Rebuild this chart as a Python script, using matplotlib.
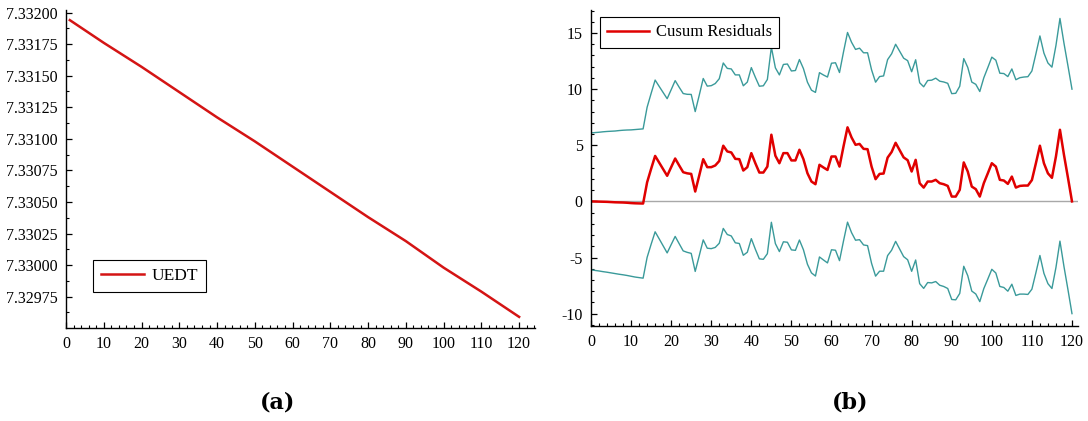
import numpy as np
import matplotlib
matplotlib.use("Agg")
import matplotlib.pyplot as plt
from matplotlib.ticker import MultipleLocator, FormatStrFormatter

plt.rcParams['font.family'] = ['Liberation Serif', 'DejaVu Serif']
plt.rcParams['axes.unicode_minus'] = False

# (a) UEDT, read every 10 steps
uedt_x = [1, 10, 20, 30, 40, 50, 60, 70, 80, 90, 100, 110, 120]
uedt_y = [7.33194, 7.33176, 7.33157, 7.33137, 7.33117, 7.33098, 7.33078,
          7.33058, 7.33038, 7.33019, 7.32998, 7.32979, 7.32959]

# (b) cusum of residuals and its bounds, t = 0..120
t = list(range(121))
cusum = [0.00, -0.01, -0.02, -0.03, -0.04, -0.06, -0.08, -0.09, -0.10, -0.12,
         -0.15, -0.17, -0.18, -0.19, 1.70, 2.90, 4.05, 3.46, 2.87, 2.28,
         3.05, 3.82, 3.20, 2.60, 2.50, 2.45, 0.88, 2.30, 3.76, 3.05,
         3.05, 3.20, 3.60, 4.96, 4.45, 4.36, 3.79, 3.76, 2.75, 3.05,
         4.30, 3.40, 2.57, 2.57, 3.10, 5.94, 4.07, 3.40, 4.30, 4.30,
         3.65, 3.65, 4.60, 3.76, 2.51, 1.77, 1.53, 3.26, 3.02, 2.80,
         4.00, 4.00, 3.10, 4.90, 6.60, 5.70, 5.04, 5.12, 4.68, 4.65,
         3.10, 1.98, 2.45, 2.48, 3.90, 4.40, 5.22, 4.57, 3.92, 3.67,
         2.66, 3.70, 1.62, 1.23, 1.77, 1.77, 1.92, 1.62, 1.53, 1.38,
         0.43, 0.43, 1.03, 3.47, 2.66, 1.32, 1.09, 0.43, 1.62, 2.50,
         3.40, 3.10, 1.92, 1.86, 1.56, 2.21, 1.23, 1.38, 1.41, 1.41,
         1.90, 3.40, 4.96, 3.40, 2.50, 2.10, 4.00, 6.38, 4.15, 2.10,
         0.00]
upper = [6.10, 6.13, 6.16, 6.20, 6.23, 6.25, 6.27, 6.31, 6.34, 6.36,
         6.37, 6.40, 6.43, 6.46, 8.39, 9.62, 10.81, 10.25, 9.70, 9.15,
         9.95, 10.76, 10.17, 9.61, 9.54, 9.53, 8.00, 9.45, 10.95, 10.27,
         10.31, 10.50, 10.93, 12.33, 11.85, 11.80, 11.27, 11.27, 10.30, 10.63,
         11.92, 11.06, 10.26, 10.30, 10.86, 13.74, 11.90, 11.27, 12.20, 12.24,
         11.62, 11.66, 12.64, 11.83, 10.62, 9.91, 9.71, 11.47, 11.26, 11.08,
         12.31, 12.35, 11.48, 13.32, 15.05, 14.18, 13.54, 13.65, 13.24, 13.24,
         11.72, 10.62, 11.12, 11.18, 12.63, 13.15, 14.00, 13.38, 12.76, 12.54,
         11.55, 12.62, 10.57, 10.21, 10.77, 10.80, 10.98, 10.71, 10.64, 10.52,
         9.60, 9.63, 10.26, 12.72, 11.94, 10.63, 10.43, 9.79, 11.01, 11.92,
         12.85, 12.58, 11.42, 11.39, 11.12, 11.80, 10.84, 11.02, 11.08, 11.11,
         11.62, 13.15, 14.74, 13.21, 12.33, 11.96, 13.89, 16.30, 14.10, 12.07,
         10.00]
lower = [-6.10, -6.15, -6.20, -6.26, -6.31, -6.37, -6.43, -6.49, -6.54, -6.60,
         -6.67, -6.74, -6.79, -6.84, -4.99, -3.82, -2.71, -3.33, -3.96, -4.59,
         -3.85, -3.12, -3.77, -4.41, -4.54, -4.63, -6.24, -4.85, -3.43, -4.17,
         -4.21, -4.10, -3.73, -2.41, -2.95, -3.08, -3.69, -3.75, -4.80, -4.53,
         -3.32, -4.26, -5.12, -5.16, -4.66, -1.86, -3.76, -4.47, -3.60, -3.64,
         -4.32, -4.36, -3.44, -4.31, -5.60, -6.37, -6.65, -4.95, -5.22, -5.48,
         -4.31, -4.35, -5.28, -3.52, -1.85, -2.78, -3.46, -3.41, -3.88, -3.94,
         -5.52, -6.66, -6.22, -6.22, -4.83, -4.35, -3.56, -4.24, -4.92, -5.20,
         -6.23, -5.22, -7.33, -7.75, -7.23, -7.26, -7.14, -7.47, -7.58, -7.76,
         -8.74, -8.77, -8.20, -5.78, -6.62, -7.99, -8.25, -8.93, -7.77, -6.92,
         -6.05, -6.38, -7.58, -7.67, -8.00, -7.38, -8.38, -8.26, -8.26, -8.29,
         -7.82, -6.35, -4.82, -6.41, -7.33, -7.76, -5.89, -3.54, -5.80, -7.87,
         -10.00]

fig = plt.figure(figsize=(10.88, 4.21), dpi=100)
ax1 = fig.add_axes([0.0607, 0.2209, 0.4310, 0.7553])
ax2 = fig.add_axes([0.5432, 0.2257, 0.4476, 0.7505])


def style(ax):
    for s in ['top', 'right']:
        ax.spines[s].set_visible(False)
    for s in ['left', 'bottom']:
        ax.spines[s].set_linewidth(1.0)
    ax.tick_params(which='both', direction='in', labelsize=11.5, pad=6)
    ax.tick_params(which='major', length=4, width=0.9)
    ax.tick_params(which='minor', length=2.5, width=0.8)
    ax.xaxis.set_major_locator(MultipleLocator(10))
    ax.xaxis.set_minor_locator(MultipleLocator(2))


def box_legend(ax, loc, anchor, size):
    leg = ax.legend(loc=loc, bbox_to_anchor=anchor, borderaxespad=0,
                    fontsize=size, fancybox=False, framealpha=1,
                    handlelength=2.5, handletextpad=0.4, borderpad=0.45)
    leg.get_frame().set_edgecolor('black')
    leg.get_frame().set_linewidth(0.8)


# (a)
ax1.plot(uedt_x, uedt_y, color='#d41414', lw=1.8, label='UEDT')
ax1.set_xlim(0, 124.2)
ax1.set_ylim(7.329502, 7.33202)
style(ax1)
ax1.yaxis.set_major_locator(MultipleLocator(0.00025))
ax1.yaxis.set_minor_locator(MultipleLocator(0.000125))
ax1.yaxis.set_major_formatter(FormatStrFormatter('%.5f'))
box_legend(ax1, 'lower left', (0.058, 0.113), 12.5)

# (b)
ax2.axhline(0, color='#a8a8a8', lw=1.0, zorder=1)
ax2.plot(t, upper, color='#3a9a9a', lw=1.0)
ax2.plot(t, lower, color='#3a9a9a', lw=1.0)
ax2.plot(t, cusum, color='#e00000', lw=1.8, label='Cusum Residuals')
ax2.set_xlim(0, 121.5)
ax2.set_ylim(-11.1, 17.05)
style(ax2)
ax2.yaxis.set_major_locator(MultipleLocator(5))
ax2.yaxis.set_minor_locator(MultipleLocator(1))
box_legend(ax2, 'upper left', (0.018, 0.978), 12)

fig.text(0.2555, 0.045, '(a)', ha='center', va='center', fontsize=16,
         fontweight='bold', family='DejaVu Serif')
fig.text(0.7812, 0.045, '(b)', ha='center', va='center', fontsize=16,
         fontweight='bold', family='DejaVu Serif')

fig.savefig('out.png', dpi=100)
